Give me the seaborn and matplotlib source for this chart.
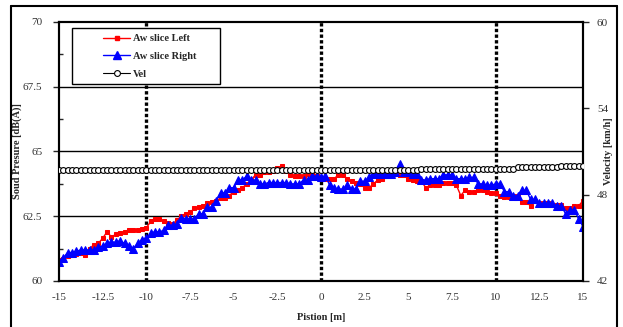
import numpy as np
import pandas as pd
import seaborn as sns
import matplotlib.pyplot as plt
from matplotlib.lines import Line2D
from matplotlib.patches import Rectangle

# positions along the slice [m]
position = np.arange(-15, 15.01, 0.25)

aw_left = [
    60.8, 60.85, 60.95, 61.0, 61.05, 61.1, 61.0, 61.25, 61.4, 61.45,
    61.65, 61.9, 61.7, 61.8, 61.85, 61.9, 61.95, 61.95, 61.95, 62.0,
    62.05, 62.3, 62.4, 62.4, 62.3, 62.25, 62.2, 62.35, 62.5, 62.6,
    62.65, 62.8, 62.85, 62.9, 63.0, 63.05, 63.1, 63.2, 63.2, 63.3,
    63.45, 63.5, 63.6, 63.75, 63.9, 64.1, 64.1, 64.2, 64.2, 64.25,
    64.35, 64.45, 64.25, 64.1, 64.05, 64.05, 64.05, 64.15, 64.15, 64.05,
    63.95, 63.95, 63.95, 63.95, 64.1, 64.1, 63.95, 63.85, 63.8, 63.75,
    63.6, 63.6, 63.75, 63.9, 63.95, 64.05, 64.1, 64.15, 64.1, 64.1,
    63.95, 63.9, 63.85, 63.85, 63.6, 63.7, 63.7, 63.7, 63.8, 63.8,
    63.8, 63.7, 63.3, 63.5, 63.45, 63.45, 63.5, 63.5, 63.45, 63.4,
    63.4, 63.3, 63.25, 63.25, 63.3, 63.3, 63.05, 63.05, 62.9, 63.1,
    63.0, 63.0, 63.0, 62.95, 62.95, 62.95, 62.8, 62.8, 62.9, 62.9,
    63.1,
]

aw_right = [
    60.75, 60.9, 61.1, 61.1, 61.15, 61.2, 61.2, 61.2, 61.2, 61.3,
    61.35, 61.45, 61.5, 61.5, 61.55, 61.45, 61.35, 61.25, 61.45, 61.6,
    61.65, 61.85, 61.9, 61.9, 61.95, 62.15, 62.15, 62.2, 62.45, 62.4,
    62.4, 62.4, 62.6, 62.6, 62.85, 62.85, 63.1, 63.4, 63.4, 63.6,
    63.6, 63.9, 63.9, 64.05, 63.9, 63.9, 63.75, 63.75, 63.8, 63.8,
    63.8, 63.8, 63.8, 63.75, 63.75, 63.75, 63.9, 63.9, 64.05, 64.05,
    64.0, 64.05, 63.7, 63.6, 63.55, 63.55, 63.7, 63.55, 63.55, 63.85,
    63.85, 64.0, 64.15, 64.15, 64.15, 64.15, 64.15, 64.2, 64.5, 64.2,
    64.2, 64.15, 64.15, 63.9, 63.9, 63.95, 63.95, 63.95, 64.1, 64.1,
    64.1, 63.95, 63.95, 63.95, 64.0, 64.0, 63.75, 63.75, 63.7, 63.7,
    63.75, 63.75, 63.45, 63.45, 63.3, 63.3, 63.5, 63.5, 63.15, 63.15,
    63.0, 63.0, 63.0, 63.0, 62.9, 62.9, 62.6, 62.75, 62.75, 62.4,
    62.1,
]

vel = [
    49.7, 49.7, 49.7, 49.7, 49.7, 49.7, 49.7, 49.7, 49.7, 49.7,
    49.7, 49.7, 49.7, 49.7, 49.7, 49.7, 49.7, 49.7, 49.7, 49.7,
    49.7, 49.7, 49.7, 49.7, 49.7, 49.7, 49.7, 49.7, 49.7, 49.7,
    49.7, 49.7, 49.7, 49.7, 49.7, 49.7, 49.7, 49.7, 49.7, 49.7,
    49.7, 49.7, 49.7, 49.7, 49.7, 49.7, 49.7, 49.7, 49.7, 49.7,
    49.7, 49.7, 49.7, 49.7, 49.7, 49.7, 49.7, 49.7, 49.7, 49.7,
    49.7, 49.7, 49.7, 49.7, 49.7, 49.7, 49.7, 49.7, 49.7, 49.7,
    49.7, 49.7, 49.7, 49.7, 49.7, 49.7, 49.7, 49.7, 49.7, 49.7,
    49.7, 49.7, 49.7, 49.8, 49.8, 49.8, 49.8, 49.8, 49.8, 49.8,
    49.8, 49.8, 49.8, 49.8, 49.8, 49.8, 49.8, 49.8, 49.8, 49.8,
    49.8, 49.8, 49.8, 49.8, 49.8, 49.9, 49.9, 49.9, 49.9, 49.9,
    49.9, 49.9, 49.9, 49.9, 49.9, 50.0, 50.0, 50.0, 50.0, 50.0,
    50.0,
]

x_ticks = [-15, -12.5, -10, -7.5, -5, -2.5, 0, 2.5, 5, 7.5, 10, 12.5, 15]
x_tick_labels = ["-15", "-12.5", "-10", "-7.5", "-5", "-2.5", "0", "2.5", "5", "7.5", "10", "12.5", "15"]
y_ticks = [60, 62.5, 65, 67.5, 70]
y_tick_labels = ["60", "62.5", "65", "67.5", "70"]
v_ticks = [42, 48, 54, 60]
marker_lines = [-10, 0, 10]

df = pd.DataFrame({"pos": position, "left": aw_left, "right": aw_right, "vel": vel})

sns.set_theme(style="white")
plt.rcParams["font.family"] = ["Liberation Serif", "DejaVu Serif"]

fig = plt.figure(figsize=(6.23, 3.27), dpi=100)
ax = fig.add_axes([59 / 623, 1 - 281 / 327, 524 / 623, 259 / 327])
ax2 = ax.twinx()

# horizontal grid + dotted position markers
for yv in [62.5, 65, 67.5]:
    ax.axhline(yv, color="black", lw=1, zorder=1)
for xv in marker_lines:
    ax.axvline(xv, color="black", lw=2.4, ls=(0, (1.0, 0.7)), zorder=1)

sns.lineplot(data=df, x="pos", y="left", ax=ax, color="red", lw=1,
             marker="s", markersize=3.5, markeredgecolor="red", zorder=3)
sns.lineplot(data=df, x="pos", y="right", ax=ax, color="blue", lw=1,
             marker="^", markersize=5.5, markeredgecolor="blue", zorder=4)
sns.lineplot(data=df, x="pos", y="vel", ax=ax2, color="black", lw=0.8,
             marker="o", markersize=4.2, markerfacecolor="white",
             markeredgecolor="black", markeredgewidth=0.8, zorder=3)

ax.set_xlim(-15, 15)
ax.set_ylim(60, 70)
ax2.set_ylim(42, 60)
ax.set_xticks(x_ticks)
ax.set_xticklabels(x_tick_labels)
ax.set_yticks(y_ticks)
ax.set_yticklabels(y_tick_labels)
ax2.set_yticks(v_ticks)
ax.set_yticks([61.25, 63.75, 66.25, 68.75], minor=True)

for a in (ax, ax2):
    for s in a.spines.values():
        s.set_color("black")
        s.set_linewidth(1.5)
ax.tick_params(axis="x", direction="inout", length=5, width=1, pad=6,
               labelsize=8, labelcolor="#333333", colors="black")
ax.tick_params(axis="x", labelcolor="#333333")
ax.tick_params(axis="y", which="major", direction="out", length=4, width=1,
               pad=8, labelsize=8, labelcolor="#333333", left=True)
ax.tick_params(axis="y", which="minor", direction="in", length=3, width=1, left=True)
ax2.tick_params(axis="y", direction="out", length=4, width=1, pad=6,
                labelsize=8, labelcolor="#333333", right=True)

lab_font = dict(fontsize=7.5, fontweight="bold")
ax.set_xlabel("Pistion [m]", **lab_font)
ax.set_ylabel("Soud Presure [dB(A)]", **lab_font)
ax2.set_ylabel("Velocity [km/h]", **lab_font)
ax.xaxis.set_label_coords(0.5, -0.125)
ax.yaxis.set_label_coords(-0.07, 0.5)
ax2.yaxis.set_label_coords(1.04, 0.5)

# legend box drawn as its own rectangle, entries placed inside it
ax2.add_patch(Rectangle((13 / 524, 197 / 259), 148 / 524, 56 / 259,
                        transform=ax2.transAxes, facecolor="white",
                        edgecolor="black", lw=1, zorder=5))
handles = [
    Line2D([], [], color="red", lw=1, marker="s", markersize=3.5),
    Line2D([], [], color="blue", lw=1, marker="^", markersize=5.5),
    Line2D([], [], color="black", lw=0.8, marker="o", markersize=4.2,
           markerfacecolor="white", markeredgewidth=0.8),
]
leg = ax2.legend(handles, ["Aw slice Left", "Aw slice Right", "Vel"],
                 loc="upper left", bbox_to_anchor=(44 / 524, 247 / 259),
                 frameon=False, handlelength=2.6, handletextpad=0.3,
                 labelspacing=0.8, borderpad=0, borderaxespad=0,
                 prop={"size": 7.5, "weight": "bold"})
leg.set_zorder(6)

# outer frame around the chart
fig.add_artist(Line2D([11 / 623, 11 / 623], [0, 1 - 6 / 327], color="black", lw=1.5))
fig.add_artist(Line2D([11 / 623, 617 / 623], [1 - 6 / 327, 1 - 6 / 327], color="black", lw=1.5))
fig.add_artist(Line2D([617 / 623, 617 / 623], [0, 1 - 6 / 327], color="black", lw=1.5))

plt.savefig("out.png", dpi=100)
